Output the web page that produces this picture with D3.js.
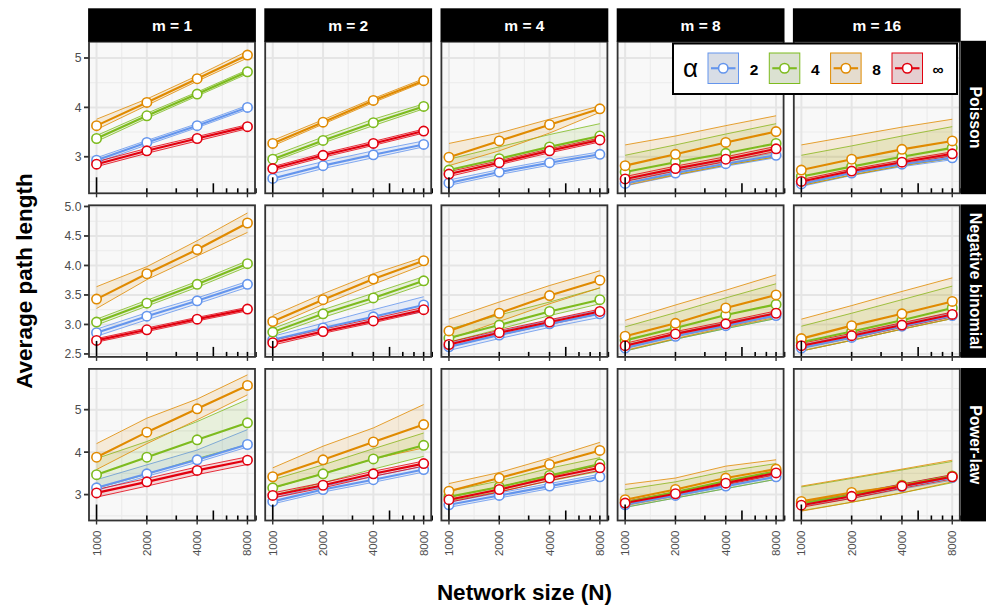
<!DOCTYPE html>
<html>
<head>
<meta charset="utf-8">
<script src="https://cdn.jsdelivr.net/npm/d3@7"></script>
<style>
  html, body { margin: 0; padding: 0; background: #ffffff; }
  svg { display: block; font-family: "Liberation Sans", Arial, sans-serif; }
</style>
</head>
<body>
<svg id="chart" width="986" height="608"></svg>
<script>
// ---------------- DATA ----------------
const networkSizes = [1000, 2000, 4000, 8000];
const xTickLabels = ["1000", "2000", "4000", "8000"];
const mLevels = ["m = 1", "m = 2", "m = 4", "m = 8", "m = 16"];
const alphaLevels = ["2", "4", "8", "\u221E"];
const distributions = ["Poisson", "Negative binomial", "Power-law"];

// values: [m column][alpha series][N]
const poissonMean = [
  [[2.93,3.29,3.63,4.00],[3.37,3.83,4.27,4.72],[3.63,4.10,4.58,5.06],[2.85,3.12,3.37,3.61]],
  [[2.56,2.82,3.04,3.25],[2.95,3.33,3.69,4.02],[3.27,3.70,4.14,4.54],[2.76,3.03,3.27,3.52]],
  [[2.47,2.69,2.88,3.05],[2.73,2.96,3.20,3.42],[2.99,3.32,3.65,3.97],[2.65,2.88,3.12,3.34]],
  [[2.46,2.67,2.86,3.03],[2.69,2.89,3.07,3.27],[2.82,3.05,3.29,3.51],[2.55,2.76,2.95,3.16]],
  [[2.45,2.67,2.85,2.98],[2.60,2.80,3.00,3.18],[2.73,2.95,3.15,3.32],[2.50,2.71,2.89,3.06]]
];
const poissonLow = [
  [[2.88,3.24,3.59,3.96],[3.31,3.78,4.23,4.68],[3.55,4.04,4.53,5.00],[2.80,3.07,3.32,3.57]],
  [[2.50,2.76,2.98,3.20],[2.90,3.28,3.63,3.97],[3.22,3.66,4.10,4.51],[2.72,2.99,3.23,3.48]],
  [[2.42,2.64,2.83,3.00],[2.65,2.89,3.13,3.36],[2.82,3.12,3.48,3.90],[2.60,2.84,3.08,3.30]],
  [[2.41,2.62,2.81,2.98],[2.45,2.64,2.83,3.00],[2.42,2.63,2.83,3.00],[2.50,2.71,2.90,3.11]],
  [[2.40,2.62,2.80,2.94],[2.42,2.63,2.82,2.97],[2.42,2.63,2.82,2.97],[2.46,2.67,2.85,3.02]]
];
const poissonHigh = [
  [[2.98,3.33,3.67,4.04],[3.43,3.88,4.31,4.76],[3.76,4.17,4.64,5.14],[2.90,3.17,3.41,3.65]],
  [[2.66,2.90,3.12,3.32],[3.02,3.40,3.76,4.07],[3.33,3.75,4.18,4.58],[2.80,3.07,3.31,3.56]],
  [[2.53,2.74,2.93,3.10],[2.95,3.20,3.45,3.67],[3.27,3.48,3.76,4.03],[2.70,2.92,3.16,3.38]],
  [[2.51,2.72,2.91,3.08],[3.03,3.24,3.46,3.67],[3.24,3.42,3.63,3.83],[2.60,2.81,3.00,3.21]],
  [[2.50,2.72,2.90,3.03],[3.03,3.22,3.42,3.61],[3.24,3.42,3.60,3.76],[2.54,2.75,2.93,3.10]]
];

const negBinMean = [
  [[2.86,3.14,3.40,3.68],[3.04,3.36,3.68,4.03],[3.43,3.86,4.27,4.72],[2.73,2.91,3.09,3.26]],
  [[2.74,2.94,3.13,3.33],[2.87,3.18,3.45,3.74],[3.05,3.42,3.77,4.08],[2.69,2.88,3.06,3.25]],
  [[2.62,2.82,3.01,3.18],[2.77,2.99,3.22,3.42],[2.89,3.19,3.49,3.75],[2.66,2.86,3.04,3.22]],
  [[2.60,2.80,2.98,3.15],[2.73,2.94,3.16,3.34],[2.80,3.02,3.28,3.50],[2.64,2.84,3.01,3.19]],
  [[2.60,2.78,2.97,3.15],[2.70,2.88,3.07,3.28],[2.76,2.98,3.18,3.39],[2.64,2.81,2.99,3.17]]
];
const negBinLow = [
  [[2.80,3.08,3.35,3.63],[2.99,3.31,3.63,3.98],[3.27,3.76,4.16,4.56],[2.70,2.88,3.06,3.23]],
  [[2.69,2.88,3.07,3.22],[2.82,3.12,3.39,3.68],[2.97,3.34,3.68,4.01],[2.65,2.85,3.03,3.22]],
  [[2.56,2.76,2.95,3.12],[2.70,2.92,3.15,3.35],[2.75,3.05,3.35,3.62],[2.62,2.82,3.00,3.18]],
  [[2.55,2.75,2.93,3.10],[2.55,2.75,2.93,3.10],[2.56,2.76,2.95,3.12],[2.60,2.80,2.97,3.15]],
  [[2.55,2.73,2.92,3.10],[2.55,2.73,2.92,3.10],[2.55,2.73,2.92,3.10],[2.60,2.77,2.95,3.13]]
];
const negBinHigh = [
  [[2.92,3.20,3.45,3.73],[3.09,3.41,3.73,4.08],[3.64,3.98,4.42,4.89],[2.76,2.94,3.12,3.29]],
  [[2.80,3.02,3.25,3.47],[2.93,3.25,3.53,3.81],[3.15,3.52,3.86,4.14],[2.73,2.92,3.10,3.29]],
  [[2.68,2.88,3.07,3.24],[2.92,3.16,3.38,3.62],[3.09,3.38,3.66,3.91],[2.70,2.90,3.08,3.26]],
  [[2.65,2.85,3.03,3.20],[2.96,3.20,3.45,3.69],[3.07,3.33,3.58,3.84],[2.68,2.88,3.05,3.23]],
  [[2.65,2.83,3.02,3.20],[2.97,3.19,3.42,3.65],[3.09,3.32,3.56,3.79],[2.68,2.85,3.03,3.21]]
];

const powerLawMean = [
  [[3.16,3.49,3.82,4.18],[3.47,3.88,4.29,4.69],[3.88,4.47,5.02,5.57],[3.04,3.30,3.57,3.81]],
  [[2.84,3.12,3.35,3.59],[3.16,3.49,3.84,4.16],[3.42,3.82,4.24,4.65],[2.98,3.22,3.49,3.73]],
  [[2.76,2.98,3.20,3.42],[2.95,3.18,3.45,3.72],[3.08,3.39,3.71,4.04],[2.88,3.12,3.39,3.63]],
  [[2.76,2.98,3.20,3.42],[2.82,3.06,3.32,3.55],[2.88,3.12,3.39,3.60],[2.80,3.02,3.27,3.51]],
  [[2.78,2.97,3.19,3.40],[2.80,2.99,3.22,3.44],[2.84,3.05,3.21,3.42],[2.75,2.96,3.20,3.42]]
];
const powerLawLow = [
  [[3.10,3.43,3.76,4.12],[3.15,3.48,3.85,4.18],[3.59,4.20,4.76,5.35],[2.94,3.20,3.47,3.71]],
  [[2.78,3.06,3.29,3.53],[2.98,3.28,3.60,3.90],[3.15,3.50,3.84,4.10],[2.92,3.16,3.43,3.67]],
  [[2.70,2.92,3.14,3.36],[2.85,3.07,3.32,3.55],[2.88,3.12,3.42,3.70],[2.82,3.06,3.33,3.57]],
  [[2.70,2.92,3.14,3.36],[2.70,2.92,3.14,3.36],[2.74,2.96,3.20,3.42],[2.76,2.98,3.23,3.47]],
  [[2.72,2.91,3.13,3.34],[2.62,2.82,3.04,3.28],[2.61,2.82,3.04,3.30],[2.70,2.91,3.15,3.37]]
];
const powerLawHigh = [
  [[3.35,3.70,4.05,4.53],[3.85,4.25,4.72,5.24],[4.20,4.80,5.25,5.82],[3.12,3.38,3.65,3.89]],
  [[2.92,3.20,3.43,3.67],[3.35,3.70,4.08,4.45],[3.63,4.14,4.57,5.12],[3.04,3.28,3.55,3.79]],
  [[2.82,3.04,3.26,3.48],[3.08,3.32,3.62,3.87],[3.26,3.52,3.86,4.23],[2.94,3.18,3.45,3.69]],
  [[2.82,3.04,3.26,3.48],[3.12,3.30,3.55,3.73],[3.24,3.39,3.67,3.82],[2.84,3.06,3.31,3.55]],
  [[2.84,3.03,3.25,3.46],[3.18,3.38,3.58,3.78],[3.20,3.40,3.60,3.81],[2.80,3.01,3.25,3.47]]
];

const poissonTicks = [3, 4, 5];
const negBinTicks = [2.5, 3.0, 3.5, 4.0, 4.5, 5.0];
const powerLawTicks = [3, 4, 5];

// ---------------- STYLE / LAYOUT ----------------
const seriesColors = ["#6495ED", "#7DBB1E", "#E08A00", "#E2000F"];
const rowMeans = [poissonMean, negBinMean, powerLawMean];
const rowLows = [poissonLow, negBinLow, powerLawLow];
const rowHighs = [poissonHigh, negBinHigh, powerLawHigh];
const rowTicks = [poissonTicks, negBinTicks, powerLawTicks];
const rowTickFormat = [d3.format("d"), d3.format(".1f"), d3.format("d")];
const rowDomains = [[2.26, 5.33], [2.45, 5.02], [2.39, 5.96]];

const panelLeft0 = 89, panelW = 166, colStep = 176.2;
const panelTop0 = 41.7, panelH = 151.6, rowStep = 163.6;
const fontFam = '"Liberation Sans", Arial, sans-serif';

const svg = d3.select("#chart");
const defs = svg.append("defs");

const lmin = Math.log10(1000), lmax = Math.log10(8000), lexp = (lmax - lmin) * 0.05;
const x = d3.scaleLog()
  .domain([Math.pow(10, lmin - lexp), Math.pow(10, lmax + lexp)])
  .range([0, panelW]);

// minor x breaks: midpoints (in log space) between majors
const xMinor = [];
for (let i = 0; i < networkSizes.length - 1; i++) {
  xMinor.push(Math.sqrt(networkSizes[i] * networkSizes[i + 1]));
}
const logTickVals = d3.range(1000, 10000, 1000);

distributions.forEach((dist, r) => {
  const y = d3.scaleLinear().domain(rowDomains[r]).range([panelH, 0]);
  const ticks = rowTicks[r];
  const step = ticks[1] - ticks[0];
  const yMinor = [];
  for (let v = ticks[0] - step / 2; v <= rowDomains[r][1]; v += step) {
    if (v >= rowDomains[r][0]) yMinor.push(v);
  }

  mLevels.forEach((mLab, c) => {
    const left = panelLeft0 + c * colStep;
    const top = panelTop0 + r * rowStep;
    const g = svg.append("g").attr("transform", `translate(${left},${top})`);
    const clipId = `clip-${r}-${c}`;
    defs.append("clipPath").attr("id", clipId)
      .append("rect").attr("width", panelW).attr("height", panelH);

    g.append("rect").attr("width", panelW).attr("height", panelH).attr("fill", "#F8F8F8");

    const content = g.append("g").attr("clip-path", `url(#${clipId})`);
    // grid
    content.selectAll(".ymin").data(yMinor).join("line")
      .attr("x1", 0).attr("x2", panelW)
      .attr("y1", d => y(d)).attr("y2", d => y(d))
      .attr("stroke", "#EBEBEB").attr("stroke-width", 1.1);
    content.selectAll(".xmin").data(xMinor).join("line")
      .attr("y1", 0).attr("y2", panelH)
      .attr("x1", d => x(d)).attr("x2", d => x(d))
      .attr("stroke", "#EBEBEB").attr("stroke-width", 1.1);
    content.selectAll(".ymaj").data(ticks).join("line")
      .attr("x1", 0).attr("x2", panelW)
      .attr("y1", d => y(d)).attr("y2", d => y(d))
      .attr("stroke", "#E5E5E5").attr("stroke-width", 2);
    content.selectAll(".xmaj").data(networkSizes).join("line")
      .attr("y1", 0).attr("y2", panelH)
      .attr("x1", d => x(d)).attr("x2", d => x(d))
      .attr("stroke", "#E5E5E5").attr("stroke-width", 2);

    const means = rowMeans[r][c], lows = rowLows[r][c], highs = rowHighs[r][c];
    const area = d3.area().x((d, i) => x(networkSizes[i])).y0(d => y(d[0])).y1(d => y(d[1]));
    const line = d3.line().x((d, i) => x(networkSizes[i])).y(d => y(d));

    // ribbons
    seriesColors.forEach((col, s) => {
      const pts = lows[s].map((lo, i) => [lo, highs[s][i]]);
      content.append("path").attr("d", area(pts))
        .attr("fill", col).attr("fill-opacity", 0.13);
      content.append("path").attr("d", line(lows[s]))
        .attr("fill", "none").attr("stroke", col).attr("stroke-width", 0.8);
      content.append("path").attr("d", line(highs[s]))
        .attr("fill", "none").attr("stroke", col).attr("stroke-width", 0.8);
    });
    // mean lines
    seriesColors.forEach((col, s) => {
      content.append("path").attr("d", line(means[s]))
        .attr("fill", "none").attr("stroke", col).attr("stroke-width", 2.1);
    });
    // points
    seriesColors.forEach((col, s) => {
      content.selectAll(null).data(means[s]).join("circle")
        .attr("cx", (d, i) => x(networkSizes[i])).attr("cy", d => y(d))
        .attr("r", 4.7).attr("fill", "#ffffff")
        .attr("stroke", col).attr("stroke-width", 1.6);
    });

    // log ticks (inside bottom)
    g.selectAll(".logtick").data(logTickVals).join("line")
      .attr("x1", d => x(d)).attr("x2", d => x(d))
      .attr("y1", panelH)
      .attr("y2", d => panelH - (d === 1000 ? 16 : (d === 5000 ? 10 : 5)))
      .attr("stroke", "#000").attr("stroke-width", 1.6);

    // border
    g.append("rect").attr("width", panelW).attr("height", panelH)
      .attr("fill", "none").attr("stroke", "#333333").attr("stroke-width", 1.8);

    // x axis ticks under panel
    g.selectAll(".xt").data(networkSizes).join("line")
      .attr("x1", d => x(d)).attr("x2", d => x(d))
      .attr("y1", panelH).attr("y2", panelH + 4)
      .attr("stroke", "#333333").attr("stroke-width", 1.4);

    if (r === distributions.length - 1) {
      g.selectAll(".xl").data(networkSizes).join("text")
        .attr("transform", d => `translate(${x(d)},${panelH + 10}) rotate(-90)`)
        .attr("text-anchor", "end").attr("dy", "0.35em")
        .attr("font-size", 11.5).attr("fill", "#4D4D4D")
        .text((d, i) => xTickLabels[i]);
    }

    if (c === 0) {
      g.selectAll(".yt").data(ticks).join("line")
        .attr("x1", -5).attr("x2", 0)
        .attr("y1", d => y(d)).attr("y2", d => y(d))
        .attr("stroke", "#333333").attr("stroke-width", 1.8);
      g.selectAll(".yl").data(ticks).join("text")
        .attr("x", -7.5).attr("y", d => y(d)).attr("dy", "0.36em")
        .attr("text-anchor", "end").attr("font-size", 12.2).attr("fill", "#4D4D4D")
        .text(d => rowTickFormat[r](d));
    }

    if (r === 0) {
      svg.append("rect").attr("x", left - 0.9).attr("y", 8.3)
        .attr("width", panelW + 1.8).attr("height", panelTop0 - 8.3)
        .attr("fill", "#000");
      svg.append("text").attr("x", left + panelW / 2).attr("y", 31)
        .attr("text-anchor", "middle").attr("font-size", 15.5)
        .attr("font-weight", "bold").attr("fill", "#fff").text(mLab);
    }
    if (c === mLevels.length - 1) {
      svg.append("rect").attr("x", left + panelW + 1).attr("y", top - 0.9)
        .attr("width", 30).attr("height", panelH + 1.8).attr("fill", "#000");
      svg.append("text")
        .attr("transform", `translate(${left + panelW + 10.5},${top + panelH / 2}) rotate(90)`)
        .attr("text-anchor", "middle").attr("font-size", 16)
        .attr("font-weight", "bold").attr("fill", "#fff").text(dist);
    }
  });
});

// axis titles
svg.append("text")
  .attr("transform", `translate(31.5,${panelTop0 + (2 * rowStep + panelH) / 2}) rotate(-90)`)
  .attr("text-anchor", "middle").attr("font-size", 22.5).attr("font-weight", "bold")
  .attr("fill", "#000").text("Average path length");
svg.append("text")
  .attr("x", panelLeft0 + (4 * colStep + panelW) / 2).attr("y", 600)
  .attr("text-anchor", "middle").attr("font-size", 22.5).attr("font-weight", "bold")
  .attr("fill", "#000").text("Network size (N)");

// legend
const lg = svg.append("g").attr("transform", "translate(673,43.5)");
lg.append("rect").attr("width", 284).attr("height", 50.5)
  .attr("fill", "#fff").attr("stroke", "#000").attr("stroke-width", 2);
lg.append("text").attr("x", 17.5).attr("y", 33).attr("text-anchor", "middle")
  .attr("font-size", 26).attr("fill", "#000").text("\u03B1");
const keyX = [35, 96.3, 157.6, 219];
alphaLevels.forEach((lab, s) => {
  const kx = keyX[s], ky = 9.5, ks = 30.5;
  lg.append("rect").attr("x", kx).attr("y", ky).attr("width", ks).attr("height", ks)
    .attr("fill", "#E6E6E6");
  lg.append("rect").attr("x", kx).attr("y", ky).attr("width", ks).attr("height", ks)
    .attr("fill", seriesColors[s]).attr("fill-opacity", 0.1)
    .attr("stroke", seriesColors[s]).attr("stroke-width", 1);
  lg.append("line").attr("x1", kx + 3).attr("x2", kx + ks - 3)
    .attr("y1", ky + ks / 2).attr("y2", ky + ks / 2)
    .attr("stroke", seriesColors[s]).attr("stroke-width", 2.1);
  lg.append("circle").attr("cx", kx + ks / 2).attr("cy", ky + ks / 2).attr("r", 4.7)
    .attr("fill", "#fff").attr("stroke", seriesColors[s]).attr("stroke-width", 1.6);
  lg.append("text").attr("x", kx + ks + 15.5).attr("y", 31)
    .attr("text-anchor", "middle").attr("font-size", 15.5).attr("font-weight", "bold")
    .attr("fill", "#000").text(lab);
});
</script>
</body>
</html>
